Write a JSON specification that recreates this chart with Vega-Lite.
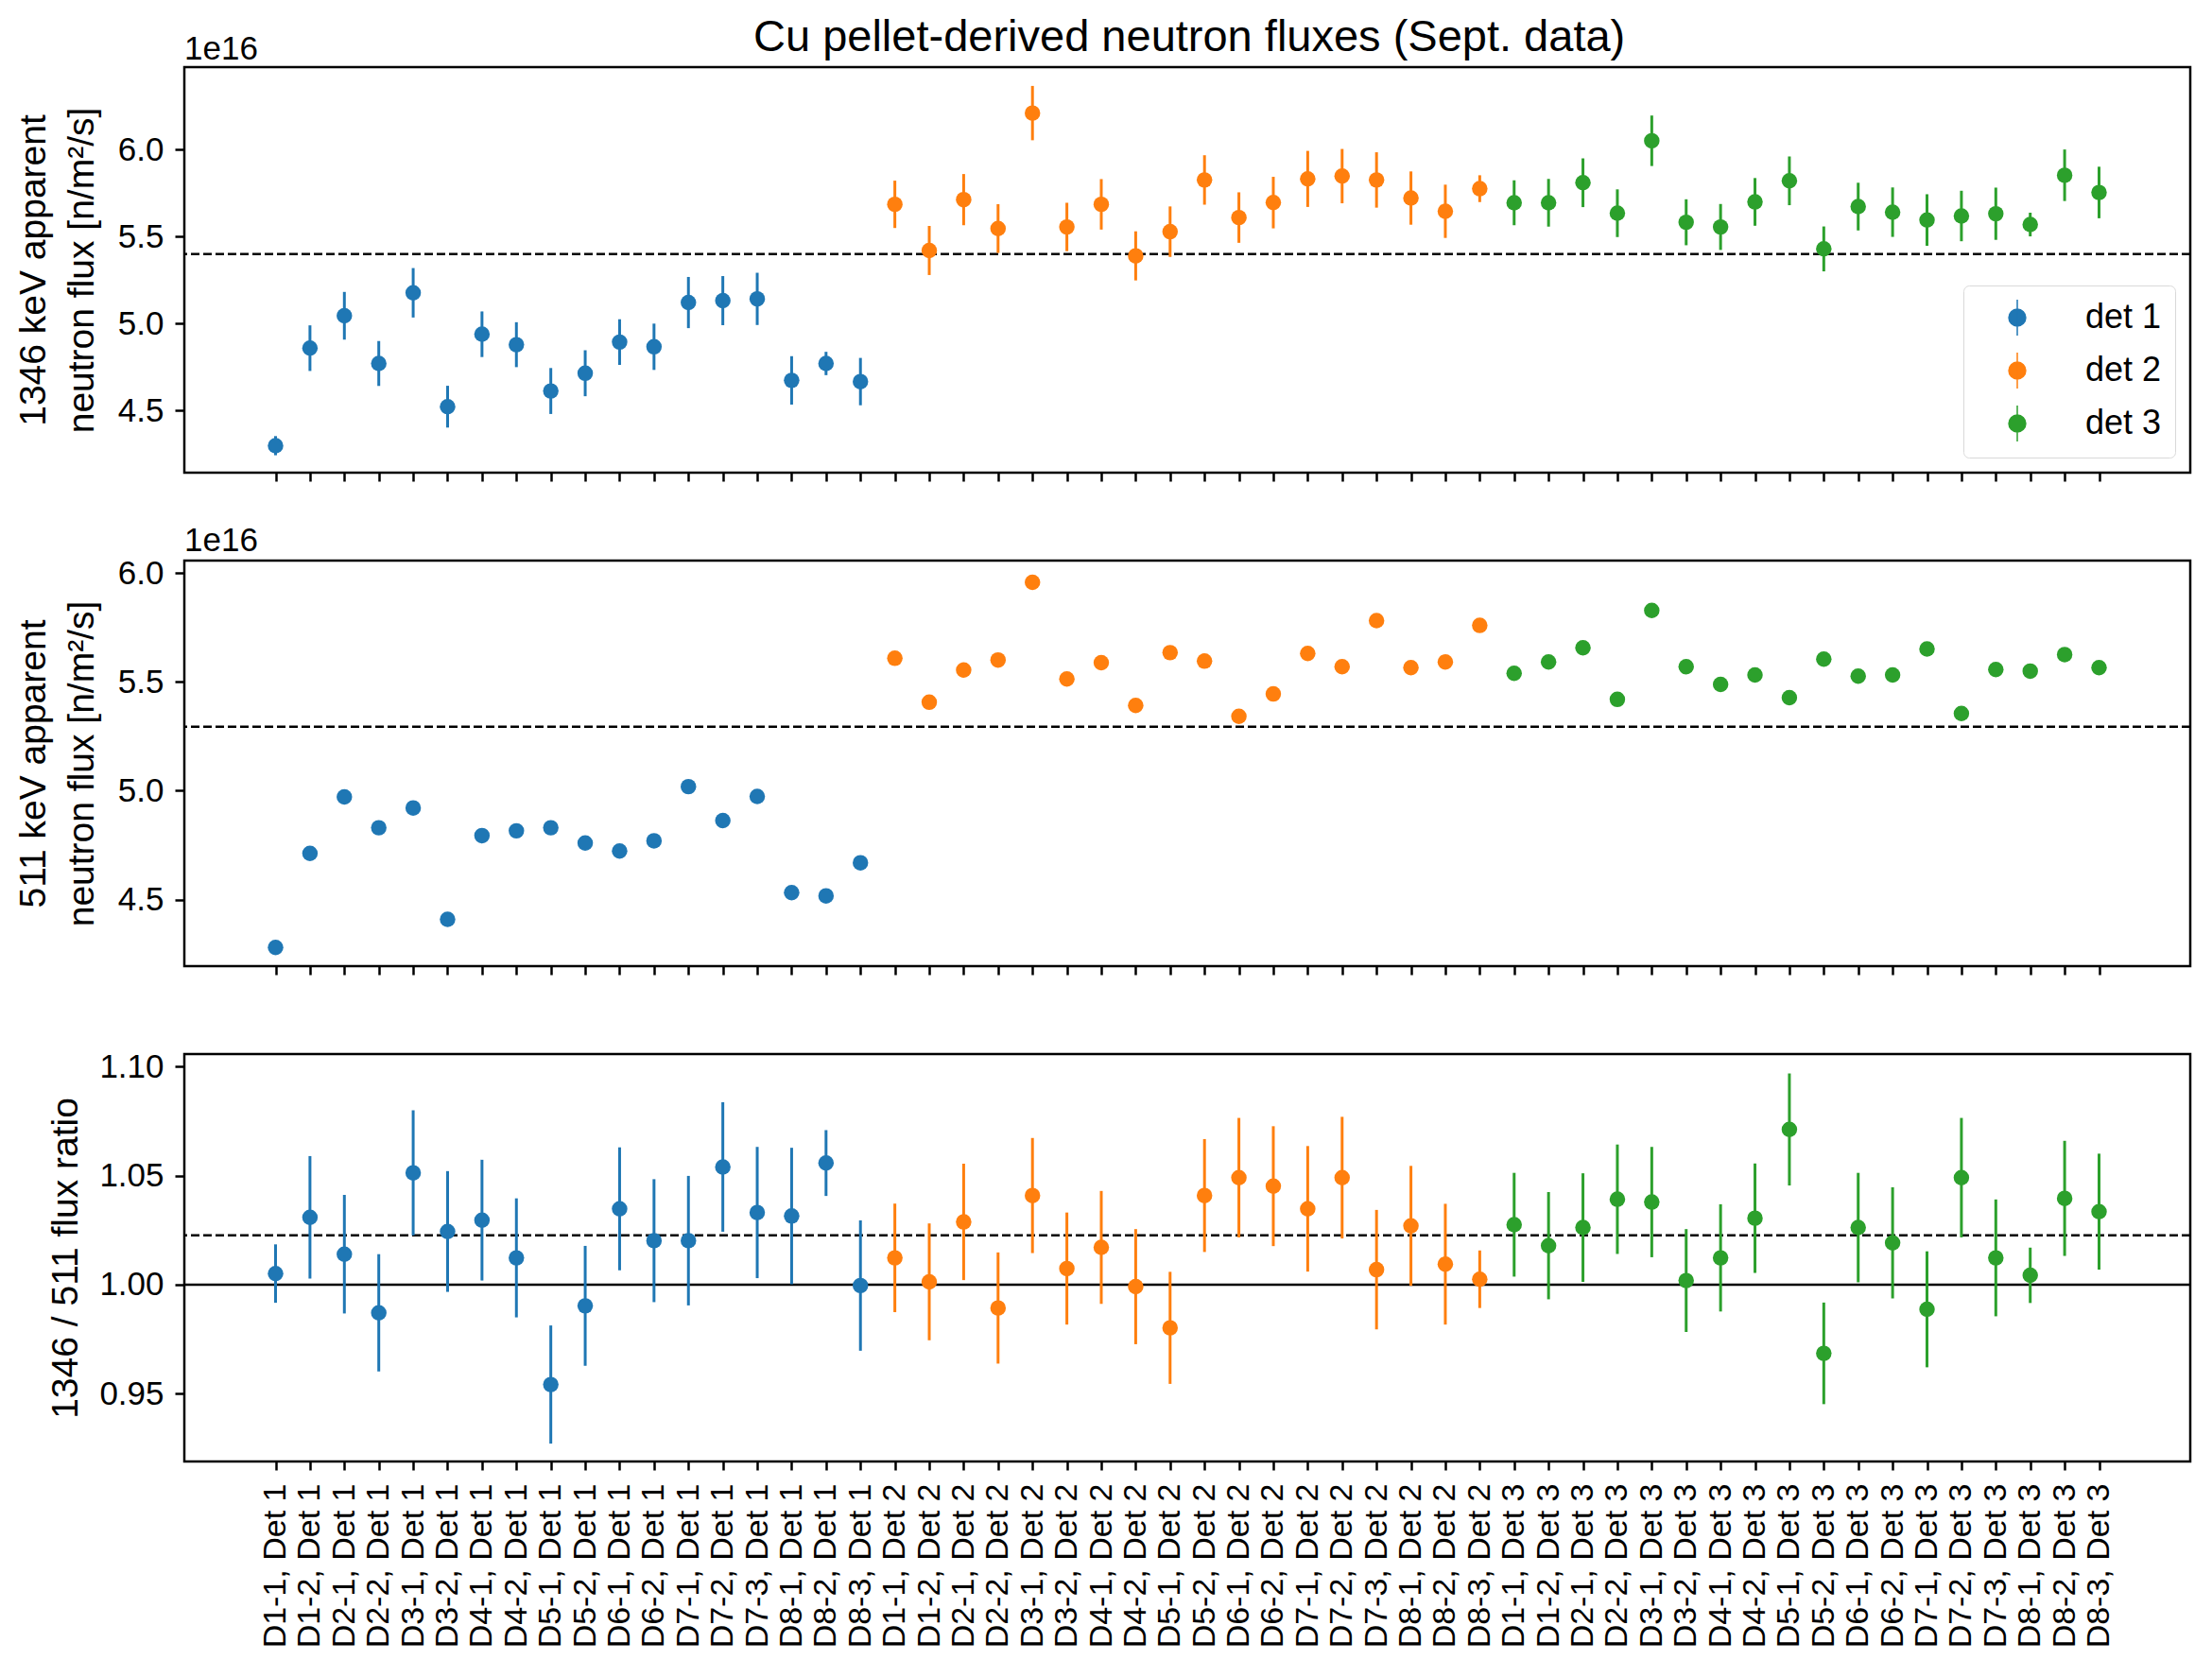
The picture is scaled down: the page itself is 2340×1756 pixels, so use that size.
{
  "$schema": "https://vega.github.io/schema/vega-lite/v6.json",
  "padding": {"left": 14, "top": 15, "right": 0, "bottom": 0},
  "title": {
    "text": "Cu pellet-derived neutron fluxes (Sept. data)",
    "fontSize": 47,
    "fontWeight": "normal",
    "anchor": "middle",
    "offset": -30,
    "dx": 91
  },
  "data": {
    "values": [
      {"label": "D1-1, Det 1", "det": "det 1", "f1346": 4.299, "e1346": 0.055, "f511": 4.280, "r": 1.0051, "er": 0.0134},
      {"label": "D1-2, Det 1", "det": "det 1", "f1346": 4.859, "e1346": 0.131, "f511": 4.712, "r": 1.0309, "er": 0.0281},
      {"label": "D2-1, Det 1", "det": "det 1", "f1346": 5.045, "e1346": 0.137, "f511": 4.972, "r": 1.0140, "er": 0.0272},
      {"label": "D2-2, Det 1", "det": "det 1", "f1346": 4.771, "e1346": 0.129, "f511": 4.830, "r": 0.9871, "er": 0.0269},
      {"label": "D3-1, Det 1", "det": "det 1", "f1346": 5.177, "e1346": 0.142, "f511": 4.921, "r": 1.0513, "er": 0.0287},
      {"label": "D3-2, Det 1", "det": "det 1", "f1346": 4.523, "e1346": 0.120, "f511": 4.409, "r": 1.0244, "er": 0.0277},
      {"label": "D4-1, Det 1", "det": "det 1", "f1346": 4.939, "e1346": 0.131, "f511": 4.794, "r": 1.0296, "er": 0.0277},
      {"label": "D4-2, Det 1", "det": "det 1", "f1346": 4.879, "e1346": 0.129, "f511": 4.816, "r": 1.0123, "er": 0.0273},
      {"label": "D5-1, Det 1", "det": "det 1", "f1346": 4.613, "e1346": 0.132, "f511": 4.830, "r": 0.9542, "er": 0.0271},
      {"label": "D5-2, Det 1", "det": "det 1", "f1346": 4.715, "e1346": 0.132, "f511": 4.760, "r": 0.9903, "er": 0.0275},
      {"label": "D6-1, Det 1", "det": "det 1", "f1346": 4.894, "e1346": 0.131, "f511": 4.723, "r": 1.0348, "er": 0.0282},
      {"label": "D6-2, Det 1", "det": "det 1", "f1346": 4.867, "e1346": 0.133, "f511": 4.770, "r": 1.0202, "er": 0.0282},
      {"label": "D7-1, Det 1", "det": "det 1", "f1346": 5.121, "e1346": 0.147, "f511": 5.019, "r": 1.0202, "er": 0.0297},
      {"label": "D7-2, Det 1", "det": "det 1", "f1346": 5.132, "e1346": 0.141, "f511": 4.863, "r": 1.0540, "er": 0.0297},
      {"label": "D7-3, Det 1", "det": "det 1", "f1346": 5.142, "e1346": 0.150, "f511": 4.974, "r": 1.0331, "er": 0.0301},
      {"label": "D8-1, Det 1", "det": "det 1", "f1346": 4.674, "e1346": 0.139, "f511": 4.532, "r": 1.0315, "er": 0.0313},
      {"label": "D8-2, Det 1", "det": "det 1", "f1346": 4.771, "e1346": 0.067, "f511": 4.517, "r": 1.0558, "er": 0.0151},
      {"label": "D8-3, Det 1", "det": "det 1", "f1346": 4.667, "e1346": 0.136, "f511": 4.669, "r": 0.9996, "er": 0.0299},
      {"label": "D1-1, Det 2", "det": "det 2", "f1346": 5.685, "e1346": 0.136, "f511": 5.609, "r": 1.0123, "er": 0.0249},
      {"label": "D1-2, Det 2", "det": "det 2", "f1346": 5.420, "e1346": 0.141, "f511": 5.407, "r": 1.0013, "er": 0.0268},
      {"label": "D2-1, Det 2", "det": "det 2", "f1346": 5.712, "e1346": 0.147, "f511": 5.555, "r": 1.0288, "er": 0.0267},
      {"label": "D2-2, Det 2", "det": "det 2", "f1346": 5.546, "e1346": 0.140, "f511": 5.601, "r": 0.9893, "er": 0.0255},
      {"label": "D3-1, Det 2", "det": "det 2", "f1346": 6.209, "e1346": 0.156, "f511": 5.958, "r": 1.0409, "er": 0.0264},
      {"label": "D3-2, Det 2", "det": "det 2", "f1346": 5.555, "e1346": 0.139, "f511": 5.514, "r": 1.0074, "er": 0.0257},
      {"label": "D4-1, Det 2", "det": "det 2", "f1346": 5.685, "e1346": 0.145, "f511": 5.589, "r": 1.0171, "er": 0.0259},
      {"label": "D4-2, Det 2", "det": "det 2", "f1346": 5.389, "e1346": 0.141, "f511": 5.392, "r": 0.9991, "er": 0.0264},
      {"label": "D5-1, Det 2", "det": "det 2", "f1346": 5.528, "e1346": 0.145, "f511": 5.635, "r": 0.9802, "er": 0.0257},
      {"label": "D5-2, Det 2", "det": "det 2", "f1346": 5.825, "e1346": 0.142, "f511": 5.596, "r": 1.0409, "er": 0.0259},
      {"label": "D6-1, Det 2", "det": "det 2", "f1346": 5.609, "e1346": 0.145, "f511": 5.342, "r": 1.0491, "er": 0.0274},
      {"label": "D6-2, Det 2", "det": "det 2", "f1346": 5.695, "e1346": 0.148, "f511": 5.445, "r": 1.0452, "er": 0.0275},
      {"label": "D7-1, Det 2", "det": "det 2", "f1346": 5.831, "e1346": 0.161, "f511": 5.631, "r": 1.0348, "er": 0.0288},
      {"label": "D7-2, Det 2", "det": "det 2", "f1346": 5.847, "e1346": 0.156, "f511": 5.570, "r": 1.0491, "er": 0.0279},
      {"label": "D7-3, Det 2", "det": "det 2", "f1346": 5.825, "e1346": 0.159, "f511": 5.782, "r": 1.0069, "er": 0.0274},
      {"label": "D8-1, Det 2", "det": "det 2", "f1346": 5.721, "e1346": 0.153, "f511": 5.566, "r": 1.0270, "er": 0.0275},
      {"label": "D8-2, Det 2", "det": "det 2", "f1346": 5.645, "e1346": 0.153, "f511": 5.592, "r": 1.0094, "er": 0.0277},
      {"label": "D8-3, Det 2", "det": "det 2", "f1346": 5.775, "e1346": 0.077, "f511": 5.760, "r": 1.0025, "er": 0.0132},
      {"label": "D1-1, Det 3", "det": "det 3", "f1346": 5.694, "e1346": 0.129, "f511": 5.540, "r": 1.0275, "er": 0.0238},
      {"label": "D1-2, Det 3", "det": "det 3", "f1346": 5.694, "e1346": 0.137, "f511": 5.592, "r": 1.0179, "er": 0.0246},
      {"label": "D2-1, Det 3", "det": "det 3", "f1346": 5.809, "e1346": 0.140, "f511": 5.657, "r": 1.0262, "er": 0.0249},
      {"label": "D2-2, Det 3", "det": "det 3", "f1346": 5.634, "e1346": 0.137, "f511": 5.420, "r": 1.0392, "er": 0.0251},
      {"label": "D3-1, Det 3", "det": "det 3", "f1346": 6.050, "e1346": 0.145, "f511": 5.829, "r": 1.0379, "er": 0.0253},
      {"label": "D3-2, Det 3", "det": "det 3", "f1346": 5.582, "e1346": 0.132, "f511": 5.570, "r": 1.0019, "er": 0.0236},
      {"label": "D4-1, Det 3", "det": "det 3", "f1346": 5.555, "e1346": 0.132, "f511": 5.489, "r": 1.0123, "er": 0.0246},
      {"label": "D4-2, Det 3", "det": "det 3", "f1346": 5.699, "e1346": 0.137, "f511": 5.532, "r": 1.0305, "er": 0.0251},
      {"label": "D5-1, Det 3", "det": "det 3", "f1346": 5.820, "e1346": 0.140, "f511": 5.428, "r": 1.0712, "er": 0.0257},
      {"label": "D5-2, Det 3", "det": "det 3", "f1346": 5.429, "e1346": 0.129, "f511": 5.605, "r": 0.9685, "er": 0.0233},
      {"label": "D6-1, Det 3", "det": "det 3", "f1346": 5.672, "e1346": 0.137, "f511": 5.527, "r": 1.0262, "er": 0.0251},
      {"label": "D6-2, Det 3", "det": "det 3", "f1346": 5.640, "e1346": 0.142, "f511": 5.532, "r": 1.0192, "er": 0.0255},
      {"label": "D7-1, Det 3", "det": "det 3", "f1346": 5.595, "e1346": 0.148, "f511": 5.652, "r": 0.9887, "er": 0.0266},
      {"label": "D7-2, Det 3", "det": "det 3", "f1346": 5.618, "e1346": 0.145, "f511": 5.355, "r": 1.0491, "er": 0.0274},
      {"label": "D7-3, Det 3", "det": "det 3", "f1346": 5.631, "e1346": 0.150, "f511": 5.557, "r": 1.0123, "er": 0.0268},
      {"label": "D8-1, Det 3", "det": "det 3", "f1346": 5.569, "e1346": 0.068, "f511": 5.550, "r": 1.0043, "er": 0.0127},
      {"label": "D8-2, Det 3", "det": "det 3", "f1346": 5.852, "e1346": 0.148, "f511": 5.626, "r": 1.0396, "er": 0.0264},
      {"label": "D8-3, Det 3", "det": "det 3", "f1346": 5.753, "e1346": 0.148, "f511": 5.566, "r": 1.0335, "er": 0.0266}
    ]
  },
  "bounds": "flush",
  "spacing": 93,
  "resolve": {"scale": {"y": "independent"}, "legend": {"color": "independent"}},
  "vconcat": [
    {
      "width": 2122,
      "height": 429,
      "title": {"text": "1e16", "anchor": "start", "fontSize": 35, "fontWeight": "normal", "offset": 1, "frame": "group"},
      "layer": [
        {
          "data": {"values": [{"ref": 5.40}]},
          "mark": {"type": "rule", "strokeDash": [9, 4], "strokeWidth": 2.5, "color": "black"},
          "encoding": {
            "y": {
              "field": "ref", "type": "quantitative",
              "scale": {"domain": [4.144, 6.473], "nice": false, "zero": false},
              "axis": {"title": ["1346 keV apparent", "neutron flux [n/m²/s]"], "values": [4.5, 5.0, 5.5, 6.0], "format": ".1f", "titleX": -160, "titleBaseline": "middle", "titleLineHeight": 51}
            }
          }
        },
        {
          "mark": {"type": "errorbar", "ticks": false, "thickness": 3, "rule": {"strokeWidth": 3}},
          "encoding": {
            "x": {"field": "label", "type": "nominal", "sort": null, "scale": {"type": "point", "padding": 0, "range": [96.5, 2025.5]}, "axis": {"labels": false, "title": null, "tickSize": 9}},
            "y": {
              "field": "f1346", "type": "quantitative",
              "scale": {"domain": [4.144, 6.473], "nice": false, "zero": false},
              "axis": {"title": ["1346 keV apparent", "neutron flux [n/m²/s]"], "values": [4.5, 5.0, 5.5, 6.0], "format": ".1f", "titleX": -160, "titleBaseline": "middle", "titleLineHeight": 51}
            },
            "yError": {"field": "e1346"},
            "color": {"field": "det", "type": "nominal", "scale": {"domain": ["det 1", "det 2", "det 3"], "range": ["#1f77b4", "#ff7f0e", "#2ca02c"]}}
          }
        },
        {
          "mark": {"type": "point", "filled": true, "size": 270, "opacity": 1},
          "encoding": {
            "x": {"field": "label", "type": "nominal", "sort": null, "scale": {"type": "point", "padding": 0, "range": [96.5, 2025.5]}, "axis": {"labels": false, "title": null, "tickSize": 9}},
            "y": {
              "field": "f1346", "type": "quantitative",
              "scale": {"domain": [4.144, 6.473], "nice": false, "zero": false},
              "axis": {"title": ["1346 keV apparent", "neutron flux [n/m²/s]"], "values": [4.5, 5.0, 5.5, 6.0], "format": ".1f", "titleX": -160, "titleBaseline": "middle", "titleLineHeight": 51}
            },
            "color": {
              "field": "det", "type": "nominal",
              "scale": {"domain": ["det 1", "det 2", "det 3"], "range": ["#1f77b4", "#ff7f0e", "#2ca02c"]},
              "legend": {
                "title": null,
                "orient": "bottom-right",
                "offset": 16,
                "symbolType": "M-0.47,0A0.47,0.47,0,1,0,0.47,0A0.47,0.47,0,1,0,-0.47,0ZM0,-1L0,1",
                "symbolSize": 1444,
                "labelFontSize": 36,
                "labelOffset": 52,
                "symbolOffset": 23,
                "padding": 14,
                "rowPadding": 12,
                "strokeColor": "#d9d9d9",
                "fillColor": "white",
                "cornerRadius": 6,
                "encode": {"symbols": {"update": {"stroke": {"scale": "color", "field": "value"}, "strokeWidth": {"value": 3.5}}}}
              }
            }
          }
        }
      ]
    },
    {
      "width": 2122,
      "height": 429,
      "title": {"text": "1e16", "anchor": "start", "fontSize": 35, "fontWeight": "normal", "offset": -1, "frame": "group"},
      "layer": [
        {
          "data": {"values": [{"ref": 5.294}]},
          "mark": {"type": "rule", "strokeDash": [9, 4], "strokeWidth": 2.5, "color": "black"},
          "encoding": {
            "y": {
              "field": "ref", "type": "quantitative",
              "scale": {"domain": [4.194, 6.058], "nice": false, "zero": false},
              "axis": {"title": ["511 keV apparent", "neutron flux [n/m²/s]"], "values": [4.5, 5.0, 5.5, 6.0], "format": ".1f", "titleX": -160, "titleBaseline": "middle", "titleLineHeight": 51}
            }
          }
        },
        {
          "mark": {"type": "point", "filled": true, "size": 270, "opacity": 1},
          "encoding": {
            "x": {"field": "label", "type": "nominal", "sort": null, "scale": {"type": "point", "padding": 0, "range": [96.5, 2025.5]}, "axis": {"labels": false, "title": null, "tickSize": 9}},
            "y": {
              "field": "f511", "type": "quantitative",
              "scale": {"domain": [4.194, 6.058], "nice": false, "zero": false},
              "axis": {"title": ["511 keV apparent", "neutron flux [n/m²/s]"], "values": [4.5, 5.0, 5.5, 6.0], "format": ".1f", "titleX": -160, "titleBaseline": "middle", "titleLineHeight": 51}
            },
            "color": {"field": "det", "type": "nominal", "scale": {"domain": ["det 1", "det 2", "det 3"], "range": ["#1f77b4", "#ff7f0e", "#2ca02c"]}, "legend": null}
          }
        }
      ]
    },
    {
      "width": 2122,
      "height": 431,
      "layer": [
        {
          "data": {"values": [{"ref": 1.0}]},
          "mark": {"type": "rule", "strokeWidth": 2.5, "color": "black"},
          "encoding": {
            "y": {
              "field": "ref", "type": "quantitative",
              "scale": {"domain": [0.9189, 1.1058], "nice": false, "zero": false},
              "axis": {"title": "1346 / 511 flux ratio", "values": [0.95, 1.0, 1.05, 1.1], "format": ".2f", "titleX": -126, "titleBaseline": "middle"}
            }
          }
        },
        {
          "data": {"values": [{"ref": 1.0227}]},
          "mark": {"type": "rule", "strokeDash": [9, 4], "strokeWidth": 2.5, "color": "black"},
          "encoding": {
            "y": {
              "field": "ref", "type": "quantitative",
              "scale": {"domain": [0.9189, 1.1058], "nice": false, "zero": false},
              "axis": {"title": "1346 / 511 flux ratio", "values": [0.95, 1.0, 1.05, 1.1], "format": ".2f", "titleX": -126, "titleBaseline": "middle"}
            }
          }
        },
        {
          "mark": {"type": "errorbar", "ticks": false, "thickness": 3, "rule": {"strokeWidth": 3}},
          "encoding": {
            "x": {"field": "label", "type": "nominal", "sort": null, "scale": {"type": "point", "padding": 0, "range": [96.5, 2025.5]}, "axis": {"title": null, "labelAngle": 270, "labelFontSize": 34, "labelPadding": 14, "tickSize": 9}},
            "y": {
              "field": "r", "type": "quantitative",
              "scale": {"domain": [0.9189, 1.1058], "nice": false, "zero": false},
              "axis": {"title": "1346 / 511 flux ratio", "values": [0.95, 1.0, 1.05, 1.1], "format": ".2f", "titleX": -126, "titleBaseline": "middle"}
            },
            "yError": {"field": "er"},
            "color": {"field": "det", "type": "nominal", "scale": {"domain": ["det 1", "det 2", "det 3"], "range": ["#1f77b4", "#ff7f0e", "#2ca02c"]}, "legend": null}
          }
        },
        {
          "mark": {"type": "point", "filled": true, "size": 270, "opacity": 1},
          "encoding": {
            "x": {"field": "label", "type": "nominal", "sort": null, "scale": {"type": "point", "padding": 0, "range": [96.5, 2025.5]}, "axis": {"title": null, "labelAngle": 270, "labelFontSize": 34, "labelPadding": 14, "tickSize": 9}},
            "y": {
              "field": "r", "type": "quantitative",
              "scale": {"domain": [0.9189, 1.1058], "nice": false, "zero": false},
              "axis": {"title": "1346 / 511 flux ratio", "values": [0.95, 1.0, 1.05, 1.1], "format": ".2f", "titleX": -126, "titleBaseline": "middle"}
            },
            "color": {"field": "det", "type": "nominal", "scale": {"domain": ["det 1", "det 2", "det 3"], "range": ["#1f77b4", "#ff7f0e", "#2ca02c"]}, "legend": null}
          }
        }
      ]
    }
  ],
  "config": {
    "font": "Liberation Sans",
    "view": {"stroke": "black", "strokeWidth": 2.5},
    "axis": {
      "domain": false,
      "grid": false,
      "labelFontSize": 35,
      "labelColor": "black",
      "labelFont": "Liberation Sans",
      "tickColor": "black",
      "tickWidth": 2.5,
      "tickSize": 10,
      "labelPadding": 12,
      "titleFont": "Liberation Sans",
      "titleFontSize": 39,
      "titleFontWeight": "normal",
      "titleColor": "black"
    },
    "title": {"font": "Liberation Sans", "color": "black"},
    "legend": {"labelFont": "Liberation Sans", "labelColor": "black"}
  }
}
